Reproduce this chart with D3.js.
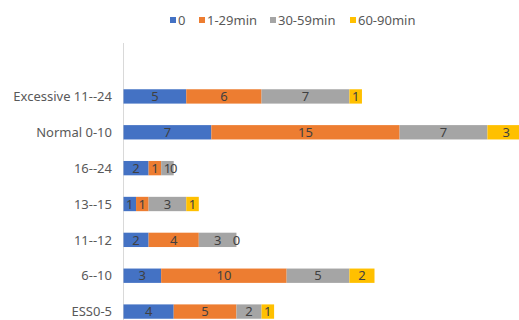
<!DOCTYPE html>
<html>
<head>
<meta charset="utf-8">
<script src="https://cdn.jsdelivr.net/npm/d3@7.9.0/dist/d3.min.js"></script>
<style>
  body { margin: 0; background: #fff; }
  text { font-family: "Noto Sans", sans-serif; }
</style>
</head>
<body>
<svg id="chart" width="519" height="320"></svg>
<script>
const categories = ['Excessive 11--24', 'Normal 0-10', '16--24', '13--15', '11--12', '6--10', 'ESS0-5'];
const seriesNames = ['0', '1-29min', '30-59min', '60-90min'];
const s0 = [5, 7, 2, 1, 2, 3, 4];
const s1 = [6, 15, 1, 1, 4, 10, 5];
const s2 = [7, 7, 1, 3, 3, 5, 2];
const s3 = [1, 3, 0, 1, 0, 2, 1];
const colorList = ['#4472C4', '#ED7D31', '#A5A5A5', '#FFC000'];

const rows = categories.map((c, i) => ({
  cat: c, '0': s0[i], '1-29min': s1[i], '30-59min': s2[i], '60-90min': s3[i]
}));
const stacked = d3.stack().keys(seriesNames)(rows);

const svg = d3.select('#chart');
const x = d3.scaleLinear().domain([0, 35]).range([123.5, 123.5 + 35 * 12.55]);
const y = d3.scaleBand().domain(categories).range([78.5, 329.5]).paddingInner(0.6).paddingOuter(0.3);
const color = d3.scaleOrdinal(seriesNames, colorList);

// axis line
svg.append('line')
  .attr('x1', x(0)).attr('x2', x(0))
  .attr('y1', 43).attr('y2', 320)
  .attr('stroke', '#d9d9d9').attr('stroke-width', 1);

const groups = svg.selectAll('g.series').data(stacked).join('g')
  .attr('class', 'series')
  .attr('fill', d => color(d.key));

groups.selectAll('rect').data(d => d).join('rect')
  .attr('x', d => x(d[0]))
  .attr('y', d => y(d.data.cat))
  .attr('width', d => x(d[1]) - x(d[0]))
  .attr('height', y.bandwidth());

stacked.forEach(s => {
  svg.append('g').selectAll('text').data(s).join('text')
    .attr('x', d => (x(d[0]) + x(d[1])) / 2)
    .attr('y', d => y(d.data.cat) + y.bandwidth() / 2)
    .attr('dy', '0.36em')
    .attr('text-anchor', 'middle')
    .attr('font-size', 13)
    .attr('fill', '#404040')
    .text(d => d.data[s.key]);
});

// category labels
svg.append('g').selectAll('text').data(categories).join('text')
  .attr('x', 112)
  .attr('y', d => y(d) + y.bandwidth() / 2)
  .attr('dy', '0.36em')
  .attr('text-anchor', 'end')
  .attr('font-size', 13)
  .attr('fill', '#595959')
  .text(d => d);

// legend
const legendX = [170, 199, 270, 350];
const legend = svg.append('g');
seriesNames.forEach((k, i) => {
  legend.append('rect')
    .attr('x', legendX[i]).attr('y', 17)
    .attr('width', 6).attr('height', 6)
    .attr('fill', color(k));
  legend.append('text')
    .attr('x', legendX[i] + 8).attr('y', 20)
    .attr('dy', '0.36em')
    .attr('font-size', 13)
    .attr('fill', '#595959')
    .text(k);
});
</script>
</body>
</html>
